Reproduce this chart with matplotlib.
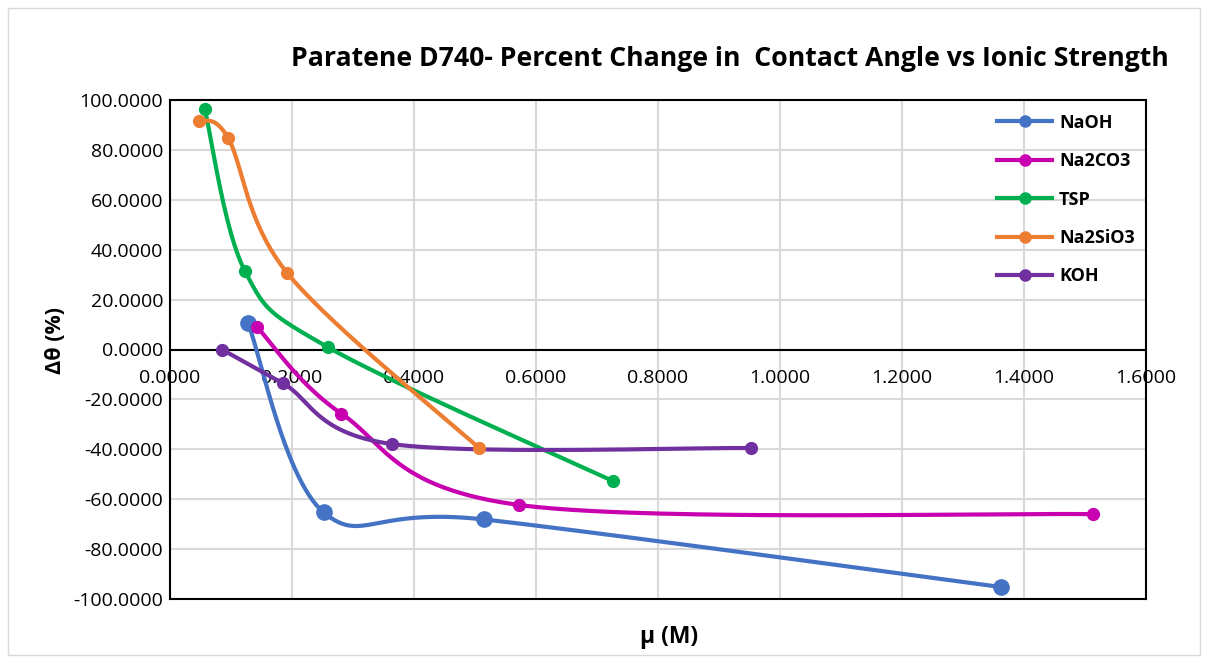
import numpy as np
import matplotlib
matplotlib.use("Agg")
import matplotlib.pyplot as plt
from matplotlib.patches import Rectangle
from matplotlib.ticker import FuncFormatter, MultipleLocator

plt.rcParams['font.family'] = ['Open Sans', 'DejaVu Sans']

naoh_x = [0.128, 0.252, 0.514, 1.362]
naoh_y = [10.5, -65.3, -68.1, -95.2]
na2co3_x = [0.143, 0.281, 0.572, 1.513]
na2co3_y = [8.9, -25.7, -62.3, -66.0]
tsp_x = [0.057, 0.1225, 0.259, 0.726]
tsp_y = [96.3, 31.6, 0.9, -52.7]
na2sio3_x = [0.047, 0.095, 0.192, 0.5066]
na2sio3_y = [91.6, 84.9, 30.7, -39.5]
koh_x = [0.0852, 0.185, 0.364, 0.952]
koh_y = [0.0, -13.5, -37.9, -39.5]

series = [
    ("NaOH", naoh_x, naoh_y, "#4472C4", 11),
    ("Na2CO3", na2co3_x, na2co3_y, "#C800B0", 8.5),
    ("TSP", tsp_x, tsp_y, "#00B050", 8.5),
    ("Na2SiO3", na2sio3_x, na2sio3_y, "#ED7D31", 8.5),
    ("KOH", koh_x, koh_y, "#7030A0", 8.5),
]

sx = 976 / 1.6
sy = 500 / 200.0


def smooth(xs, ys, n=60):
    P = np.column_stack([np.array(xs) * sx, np.array(ys) * sy])
    m = len(P)
    out = []
    for i in range(m - 1):
        p0 = P[i - 1] if i > 0 else P[i]
        p1 = P[i]
        p2 = P[i + 1]
        p3 = P[i + 2] if i + 2 < m else P[i + 1]
        c1 = p1 + (p2 - p0) / 6.0
        c2 = p2 - (p3 - p1) / 6.0
        t = np.linspace(0, 1, n)[:, None]
        b = (1 - t) ** 3 * p1 + 3 * (1 - t) ** 2 * t * c1 + 3 * (1 - t) * t ** 2 * c2 + t ** 3 * p2
        out.append(b if i == 0 else b[1:])
    B = np.vstack(out)
    return B[:, 0] / sx, B[:, 1] / sy


fig = plt.figure(figsize=(12.09, 6.63), dpi=100)
ax = fig.add_axes([170 / 1209, 1 - 599 / 663, 976 / 1209, 499 / 663])

for name, xs, ys, c, ms in series:
    cx, cy = smooth(xs, ys)
    ax.plot(cx, cy, color=c, lw=3, solid_capstyle='round', zorder=3)
    ax.plot(xs, ys, 'o', color=c, ms=ms, zorder=4)
    ax.plot([], [], '-o', color=c, lw=3, ms=8, label=name)

ax.set_xlim(0, 1.6)
ax.set_ylim(-100, 100)
ax.xaxis.set_major_locator(MultipleLocator(0.2))
ax.yaxis.set_major_locator(MultipleLocator(20))
ax.xaxis.set_major_formatter(FuncFormatter(lambda v, p: f"{v:.4f}"))
ax.yaxis.set_major_formatter(FuncFormatter(lambda v, p: f"{v:.4f}"))
ax.grid(True, color="#D9D9D9", lw=1.5, zorder=0)
ax.set_axisbelow(True)
for s in ax.spines.values():
    s.set_color("black")
    s.set_linewidth(1.5)
ax.axhline(0, color="black", lw=1.5, zorder=2)
ax.tick_params(axis='both', length=0, labelsize=14, colors="black")
ax.tick_params(axis='x', pad=-(599 - 369) * 0.72)
ax.tick_params(axis='y', pad=5)
for lbl in ax.get_xticklabels():
    lbl.set_zorder(5)

ax.set_xlabel("μ (M)", fontsize=16.5, fontweight='bold')
ax.xaxis.set_label_coords((669 - 170) / 976, -(625 - 599) / 499)
ax.set_ylabel("Δθ (%)", fontsize=15.5, fontweight='bold')
ax.yaxis.set_label_coords((66 - 170) / 976, (599 - 341) / 499)
fig.text(730 / 1209, 1 - 59 / 663, "Paratene D740- Percent Change in  Contact Angle vs Ionic Strength",
         ha='center', va='center', fontsize=19.2, fontweight='bold')

leg = ax.legend(loc='upper right', bbox_to_anchor=(1.005, 1.005), frameon=False,
                fontsize=13, handlelength=3.0, labelspacing=1.13, handletextpad=0.4)
for t in leg.get_texts():
    t.set_fontweight('bold')

fig.patches.append(Rectangle((8 / 1209, 8 / 663), 1192 / 1209, 647 / 663, transform=fig.transFigure,
                             fill=False, edgecolor="#D9D9D9", lw=1))

fig.savefig("out.png", dpi=100)
